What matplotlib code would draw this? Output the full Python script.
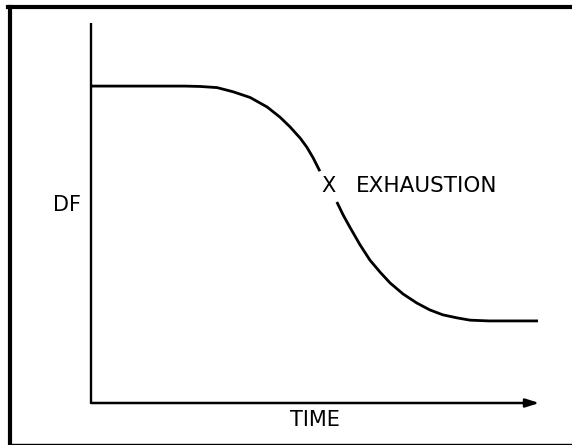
import matplotlib
matplotlib.use('Agg')
import matplotlib.pyplot as plt

# curve (time 0..10, DF 0..10)
time_before = [0.0, 2.10, 2.44, 2.82, 3.18, 3.56, 3.94, 4.23, 4.45, 4.68, 4.83, 4.97, 5.12]
df_before = [8.34, 8.34, 8.33, 8.30, 8.19, 8.04, 7.79, 7.52, 7.27, 6.97, 6.73, 6.45, 6.10]
time_after = [5.50, 5.64, 5.79, 6.02, 6.24, 6.47, 6.69, 6.98, 7.29, 7.58, 7.87, 8.19, 8.48, 8.90, 10.0]
df_after = [5.29, 4.95, 4.63, 4.16, 3.76, 3.44, 3.16, 2.87, 2.63, 2.45, 2.32, 2.24, 2.18, 2.16, 2.16]
exhaustion_point = (5.32, 5.71)

W, H = 572, 445
fig = plt.figure(figsize=(W / 100, H / 100), dpi=100)
fig.patch.set_facecolor('white')

# frame round the drawing: thick left/top, thin bottom, right cut off
fig.add_artist(plt.Line2D([10 / W, 10 / W], [1 - 7 / H, 1 - 444 / H], color='black', lw=3, transform=fig.transFigure))
fig.add_artist(plt.Line2D([8 / W, 1], [1 - 7 / H, 1 - 7 / H], color='black', lw=3, transform=fig.transFigure))
fig.add_artist(plt.Line2D([10 / W, 1], [1 - 443.5 / H, 1 - 443.5 / H], color='black', lw=1.0, transform=fig.transFigure))

ax = fig.add_axes([91 / W, 1 - 403 / H, (538 - 91) / W, (403 - 23) / H])
ax.set_xlim(0, 10)
ax.set_ylim(0, 10)
ax.axis('off')

# axes: plain vertical line, horizontal arrow
ax.plot([0, 0], [0, 10], color='black', lw=1.7, solid_capstyle='butt', clip_on=False)
ax.annotate('', xy=(10.03, 0), xytext=(0, 0),
            arrowprops=dict(arrowstyle='-|>,head_length=0.8,head_width=0.25', color='black', lw=1.8,
                            shrinkA=0, shrinkB=0), annotation_clip=False)

ax.plot(time_before, df_before, color='black', lw=2.0, solid_capstyle='butt',
        solid_joinstyle='round', clip_on=False)
ax.plot(time_after, df_after, color='black', lw=2.0, solid_capstyle='butt',
        solid_joinstyle='round', clip_on=False)

ax.text(exhaustion_point[0], exhaustion_point[1], 'X', ha='center', va='center', fontsize=15)
ax.text(5.92, exhaustion_point[1], 'EXHAUSTION', ha='left', va='center', fontsize=15.5)
ax.text(-0.54, 5.2, 'DF', ha='center', va='center', fontsize=15)
ax.text(5.0, -0.45, 'TIME', ha='center', va='center', fontsize=15)

fig.savefig('out.png', dpi=100, facecolor='white')
